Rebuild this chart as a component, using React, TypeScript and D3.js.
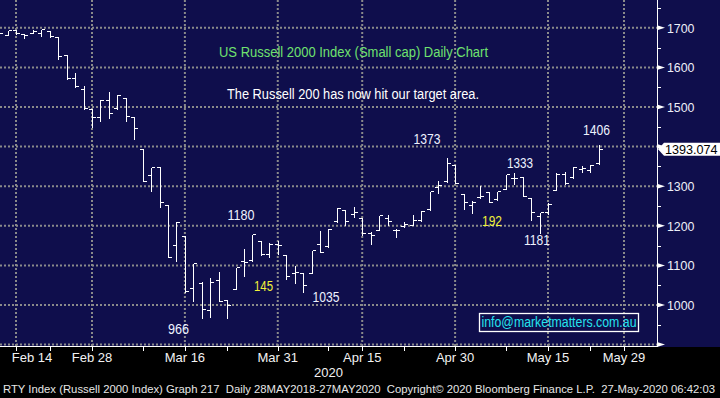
import * as d3 from "d3";

// trading days shown (Feb 12 - May 26 2020)
const days = [
  "2020-02-12", "2020-02-13", "2020-02-14", "2020-02-18", "2020-02-19", "2020-02-20",
  "2020-02-21", "2020-02-24", "2020-02-25", "2020-02-26", "2020-02-27", "2020-02-28",
  "2020-03-02", "2020-03-03", "2020-03-04", "2020-03-05", "2020-03-06", "2020-03-09",
  "2020-03-10", "2020-03-11", "2020-03-12", "2020-03-13", "2020-03-16", "2020-03-17",
  "2020-03-18", "2020-03-19", "2020-03-20", "2020-03-23", "2020-03-24", "2020-03-25",
  "2020-03-26", "2020-03-27", "2020-03-30", "2020-03-31",
  "2020-04-01", "2020-04-02", "2020-04-03", "2020-04-06", "2020-04-07", "2020-04-08",
  "2020-04-09", "2020-04-13", "2020-04-14", "2020-04-15", "2020-04-16", "2020-04-17",
  "2020-04-20", "2020-04-21", "2020-04-22", "2020-04-23", "2020-04-24", "2020-04-27",
  "2020-04-28", "2020-04-29", "2020-04-30",
  "2020-05-01", "2020-05-04", "2020-05-05", "2020-05-06", "2020-05-07", "2020-05-08",
  "2020-05-11", "2020-05-12", "2020-05-13", "2020-05-14", "2020-05-15", "2020-05-18",
  "2020-05-19", "2020-05-20", "2020-05-21", "2020-05-22", "2020-05-26",
];
// empty days to the right of the last bar
const futureDays = ["2020-05-27", "2020-05-28", "2020-05-29", "2020-06-01", "2020-06-02", "2020-06-03"];

const opens = [
  1690, 1683, 1694, 1685, 1686, 1688, 1693, 1676, 1631, 1572, 1545, 1494,
  1476, 1518, 1497, 1522, 1474, 1394, 1329, 1349, 1252, 1151, 1174, 1043, 1055, 987, 1063, 1013, 1040, 1112, 1113, 1162, 1130, 1154,
  1126, 1080, 1082, 1082, 1155, 1149, 1211, 1240, 1229, 1219, 1182, 1189, 1219, 1189, 1200, 1201, 1214, 1242, 1299, 1312, 1354,
  1280, 1253, 1272, 1285, 1267, 1293, 1320, 1322, 1271, 1225, 1236, 1291, 1331, 1322, 1343, 1341, 1358,
];
const highs = [
  1694, 1695, 1696, 1686, 1697, 1698, 1694, 1677, 1634, 1588, 1556, 1497,
  1519, 1540, 1532, 1523, 1476, 1395, 1349, 1350, 1254, 1211, 1175, 1107, 1060, 1070, 1087, 1015, 1097, 1145, 1180, 1163, 1158, 1165,
  1127, 1101, 1083, 1139, 1190, 1194, 1247, 1241, 1249, 1220, 1187, 1228, 1231, 1194, 1213, 1231, 1239, 1288, 1316, 1373, 1355,
  1281, 1266, 1302, 1286, 1289, 1331, 1335, 1323, 1272, 1236, 1261, 1337, 1338, 1352, 1354, 1356, 1406,
];
const lows = [
  1686, 1682, 1685, 1675, 1686, 1680, 1676, 1622, 1570, 1550, 1495, 1450,
  1465, 1473, 1495, 1465, 1420, 1312, 1288, 1248, 1120, 1110, 1034, 1011, 966, 969, 1009, 967, 1040, 1074, 1112, 1126, 1120, 1130,
  1066, 1055, 1034, 1081, 1133, 1147, 1210, 1202, 1222, 1176, 1155, 1189, 1202, 1172, 1196, 1201, 1212, 1241, 1282, 1311, 1308,
  1242, 1233, 1271, 1259, 1266, 1292, 1306, 1276, 1214, 1181, 1230, 1290, 1306, 1321, 1335, 1337, 1357,
];
const closes = [
  1688, 1694, 1688, 1683, 1691, 1696, 1679, 1628, 1572, 1552, 1497, 1476,
  1518, 1486, 1531, 1478, 1448, 1313, 1349, 1261, 1121, 1210, 1035, 1106, 991, 1057, 1011, 1001, 1095, 1108, 1179, 1130, 1155, 1151,
  1072, 1083, 1050, 1138, 1135, 1193, 1246, 1211, 1235, 1181, 1176, 1227, 1212, 1190, 1204, 1214, 1237, 1287, 1302, 1358, 1309,
  1259, 1261, 1275, 1261, 1287, 1331, 1320, 1276, 1235, 1236, 1256, 1331, 1308, 1349, 1345, 1353, 1393.074,
];

const majorTickDays = ["2020-02-14", "2020-02-28", "2020-03-16", "2020-03-31", "2020-04-15", "2020-04-30", "2020-05-15", "2020-05-29"];
const majorTickLabels = ["Feb 14", "Feb 28", "Mar 16", "Mar 31", "Apr 15", "Apr 30", "May 15", "May 29"];
const minorTickDays = ["2020-02-21", "2020-03-09", "2020-03-23", "2020-04-08", "2020-04-22", "2020-05-08", "2020-05-22"];
const yearLabel = "2020";
const yearLabelDay = "2020-04-08";

const priceTicks = [900, 1000, 1100, 1200, 1300, 1400, 1500, 1600, 1700];
const priceMinorTicks = [950, 1050, 1150, 1250, 1350, 1450, 1550, 1650, 1750];

const noteTexts = ["1373", "1180", "966", "145", "1035", "1333", "192", "1181", "1406"];
const noteColors = ["w", "w", "w", "y", "w", "w", "y", "w", "w"];

const title = "US Russell 2000 Index (Small cap) Daily Chart";
const subtitle = "The Russell 200 has now hit our target area.";
const email = "info@marketmatters.com.au";
const footer =
  "RTY Index (Russell 2000 Index) Graph 217  Daily 28MAY2018-27MAY2020  Copyright\u00a9 2020 Bloomberg Finance L.P.  27-May-2020 06:42:03";

// layout
const W = 720;
const H = 398;
const plotRight = 657;
const axisY = 347;
const navy = "#0f0e4c";
const gridColor = "#8a8a8a";
const font = "'Liberation Sans', Arial, sans-serif";

// annotation placement (x centre, baseline, text width)
const notePos: [number, number, number][] = [
  [427, 143.5, 27],
  [241, 220, 27],
  [178.5, 334, 21],
  [263.5, 291, 19],
  [326, 301.5, 27],
  [520, 168, 26],
  [492, 225.5, 20],
  [537, 245, 26],
  [596.5, 135, 27],
];

export default function App() {
  const allDays = [...days, ...futureDays];
  const idx = (d: string) => allDays.indexOf(d);

  const x = d3
    .scaleLinear()
    .domain([idx("2020-02-14"), idx("2020-05-29")])
    .range([16, 624]);
  const y = d3.scaleLinear().domain([900, 1700]).range([344.6, 27.8]);

  const px = (i: number) => Math.round(x(i)) + 0.5;
  const py = (v: number) => Math.round(y(v)) + 0.5;

  const lastClose = closes[closes.length - 1];
  const yLast = y(lastClose);

  return (
    <svg
      width={W}
      height={H}
      style={{ position: "absolute", left: 0, top: 0, fontFamily: font }}
    >
      <rect width={W} height={H} fill="#000" />
      <rect width={W} height={axisY} fill={navy} />

      {/* grid */}
      <g stroke={gridColor} strokeWidth={2} strokeDasharray="2 2">
        {priceTicks.map((v) => (
          <line key={"h" + v} x1={0} x2={plotRight} y1={y(v)} y2={y(v)} />
        ))}
        {majorTickDays.map((d) => (
          <line key={"v" + d} x1={x(idx(d))} x2={x(idx(d))} y1={0} y2={axisY} />
        ))}
      </g>

      {/* OHLC bars */}
      <g stroke="#fff" strokeWidth={1} shapeRendering="crispEdges">
        {days.map((d, i) => {
          const cx = px(i);
          return (
            <g key={d}>
              <line x1={cx} x2={cx} y1={py(highs[i])} y2={py(lows[i])} />
              <line x1={cx - 3.5} x2={cx} y1={py(opens[i])} y2={py(opens[i])} />
              <line x1={cx} x2={cx + 3.5} y1={py(closes[i])} y2={py(closes[i])} />
            </g>
          );
        })}
      </g>

      {/* titles */}
      <text
        x={353.5}
        y={56.5}
        fill="#6fe26f"
        fontSize={14}
        textAnchor="middle"
        textLength={269}
        lengthAdjust="spacingAndGlyphs"
      >
        {title}
      </text>
      <text
        x={353}
        y={99.3}
        fill="#fff"
        fontSize={14}
        textAnchor="middle"
        textLength={252}
        lengthAdjust="spacingAndGlyphs"
      >
        {subtitle}
      </text>

      {/* value notes */}
      {noteTexts.map((t, i) => (
        <text
          key={t + i}
          x={notePos[i][0]}
          y={notePos[i][1]}
          fill={noteColors[i] === "y" ? "#f2f23a" : "#eef2ff"}
          fontSize={14}
          textAnchor="middle"
          textLength={notePos[i][2]}
          lengthAdjust="spacingAndGlyphs"
        >
          {t}
        </text>
      ))}

      {/* email box */}
      <rect x={479.5} y={313.5} width={159} height={18} fill="none" stroke="#fff" strokeWidth={1.3} />
      <text
        x={481.5}
        y={327}
        fill="#25e3ee"
        fontSize={14}
        textLength={155}
        lengthAdjust="spacingAndGlyphs"
      >
        {email}
      </text>

      {/* right axis */}
      <line x1={plotRight + 0.5} x2={plotRight + 0.5} y1={0} y2={axisY} stroke="#fff" strokeWidth={1} />
      {priceMinorTicks.map((v) => (
        <line key={"m" + v} x1={plotRight} x2={plotRight + 4} y1={py(v)} y2={py(v)} stroke="#fff" strokeWidth={1} shapeRendering="crispEdges" />
      ))}
      {priceTicks.map((v) => (
        <g key={"t" + v}>
          <path
            d={`M${plotRight},${y(v) - 2.5}L${plotRight + 8},${y(v)}L${plotRight},${y(v) + 2.5}Z`}
            fill="#fff"
          />
          {v >= 1000 && Math.abs(y(v) - yLast) > 12 && (
            <text x={667} y={y(v) + 5} fill="#eef0f8" fontSize={13.5} textLength={27.5} lengthAdjust="spacingAndGlyphs">
              {v}
            </text>
          )}
        </g>
      ))}

      {/* last price tag */}
      <path
        d={`M${plotRight + 1},${yLast}L${plotRight + 7},${yLast - 6.5}L${W},${yLast - 6.5}L${W},${yLast + 6.5}L${plotRight + 7},${yLast + 6.5}Z`}
        fill="#fff"
      />
      <text x={665} y={yLast + 5} fill="#000" fontSize={13.5} textLength={52.5} lengthAdjust="spacingAndGlyphs">
        {d3.format(".3f")(lastClose)}
      </text>

      {/* bottom axis */}
      <line x1={0} x2={plotRight} y1={axisY - 0.5} y2={axisY - 0.5} stroke="#fff" strokeWidth={1} />
      <g stroke="#fff" strokeWidth={1} shapeRendering="crispEdges">
        {[...majorTickDays, ...minorTickDays].map((d) => (
          <line key={"xt" + d} x1={px(idx(d))} x2={px(idx(d))} y1={axisY} y2={axisY + 4} />
        ))}
      </g>
      {majorTickDays.map((d, i) => (
        <text
          key={"xl" + d}
          x={Math.max(x(idx(d)), 32)}
          y={362}
          fill="#f2f2f2"
          fontSize={13}
          textAnchor="middle"
        >
          {majorTickLabels[i]}
        </text>
      ))}
      <text x={x(idx(yearLabelDay))} y={377} fill="#f2f2f2" fontSize={13} textAnchor="middle">
        {yearLabel}
      </text>

      {/* footer */}
      <text
        x={3}
        y={393}
        fill="#e6e6e6"
        fontSize={11.2}
        textLength={712}
        lengthAdjust="spacingAndGlyphs"
        style={{ whiteSpace: "pre" }}
      >
        {footer}
      </text>
    </svg>
  );
}
